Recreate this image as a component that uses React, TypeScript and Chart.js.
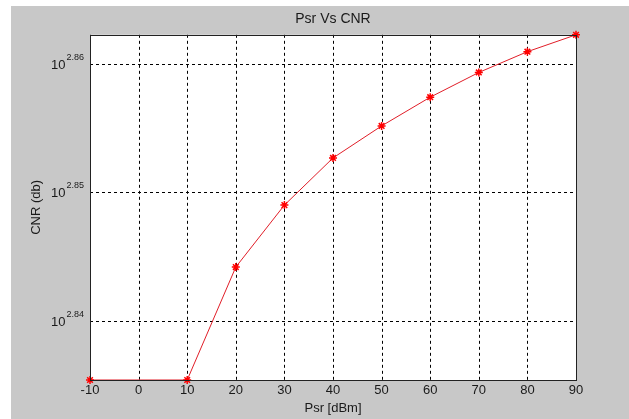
import React, { useEffect, useRef } from 'react';
import { Chart, registerables } from 'chart.js';

Chart.register(...registerables);

// ---- Data ----
const psrDbm: number[] = [-10, 10, 20, 30, 40, 50, 60, 70, 80, 90];
const cnrDb: number[] = [684.5, 684.5, 698.5, 706.3, 712.3, 716.4, 720.1, 723.3, 726.0, 728.2];
const yTickExponents: number[] = [2.84, 2.85, 2.86];
const xMin = -10;
const xMax = 90;
const xStep = 10;
const yMin = 684.5;
const yMax = 728.2;
const titleText = 'Psr Vs CNR';
const xTitle = 'Psr [dBm]';
const yTitle = 'CNR (db)';

const FONT = '"Liberation Sans", Arial, sans-serif';
const TEXT = '#1a1a1a';

const matlabPlugin = {
  id: 'matlabStyle',
  beforeDraw(chart: any) {
    const { ctx, chartArea: a } = chart;
    ctx.save();
    ctx.fillStyle = '#ffffff';
    ctx.fillRect(a.left, a.top, a.right - a.left, a.bottom - a.top);
    ctx.restore();
  },
  beforeDatasetsDraw(chart: any) {
    const { ctx, chartArea: a } = chart;
    const xs = chart.scales.x;
    const ys = chart.scales.y;
    ctx.save();
    ctx.strokeStyle = '#000000';
    ctx.lineWidth = 1;
    ctx.setLineDash([3, 3]);
    for (let v = xMin; v <= xMax; v += xStep) {
      const px = Math.round(xs.getPixelForValue(v)) + 0.5;
      ctx.beginPath();
      ctx.moveTo(px, a.top);
      ctx.lineTo(px, a.bottom);
      ctx.stroke();
    }
    yTickExponents.forEach((e) => {
      const py = Math.round(ys.getPixelForValue(Math.pow(10, e))) + 0.5;
      ctx.beginPath();
      ctx.moveTo(a.left, py);
      ctx.lineTo(a.right, py);
      ctx.stroke();
    });
    ctx.restore();
  },
  afterDatasetsDraw(chart: any) {
    const { ctx, chartArea: a } = chart;
    ctx.save();
    ctx.lineWidth = 1;
    ctx.strokeStyle = '#222222';
    ctx.strokeRect(Math.round(a.left) + 0.5, Math.round(a.top) + 0.5, Math.round(a.right - a.left), Math.round(a.bottom - a.top));
    ctx.restore();
  },
  afterDraw(chart: any) {
    const { ctx, chartArea: a } = chart;
    const ys = chart.scales.y;
    ctx.save();
    ctx.fillStyle = TEXT;
    ctx.textBaseline = 'alphabetic';
    yTickExponents.forEach((e) => {
      const py = ys.getPixelForValue(Math.pow(10, e));
      const expText = e.toFixed(2);
      ctx.font = `9px ${FONT}`;
      const expW = ctx.measureText(expText).width;
      const expX = a.left - 6 - expW;
      ctx.textAlign = 'left';
      ctx.fillText(expText, expX, py - 4);
      ctx.font = `13px ${FONT}`;
      ctx.textAlign = 'right';
      ctx.fillText('10', expX - 1, py + 5);
    });
    ctx.restore();
  },
};

export default function App() {
  const canvasRef = useRef<HTMLCanvasElement | null>(null);

  useEffect(() => {
    if (!canvasRef.current) return;
    const chart = new Chart(canvasRef.current, {
      type: 'line',
      data: {
        datasets: [
          {
            label: 'CNR',
            data: psrDbm.map((x, i) => ({ x, y: cnrDb[i] })),
            borderColor: 'rgb(225, 30, 40)',
            borderWidth: 1,
            pointStyle: 'star',
            pointRadius: 4,
            pointBorderColor: '#ff0000',
            pointBackgroundColor: '#ff0000',
            pointBorderWidth: 1.5,
            fill: false,
            tension: 0,
            clip: false as any,
          },
        ],
      },
      options: {
        responsive: false,
        animation: false,
        events: [],
        layout: { padding: { left: 0, right: 53, top: 0, bottom: 0 } },
        plugins: {
          legend: { display: false },
          tooltip: { enabled: false },
          title: {
            display: true,
            text: titleText,
            fullSize: false,
            color: TEXT,
            font: { family: FONT, size: 14, weight: 'normal' },
            padding: { top: 5, bottom: 7 },
          },
        },
        scales: {
          x: {
            type: 'linear',
            min: xMin,
            max: xMax,
            grid: { display: false, drawTicks: false },
            border: { display: false },
            ticks: {
              stepSize: xStep,
              color: TEXT,
              font: { family: FONT, size: 13 },
              padding: 3,
              maxRotation: 0,
            },
            title: {
              display: true,
              text: xTitle,
              color: TEXT,
              font: { family: FONT, size: 13 },
              padding: { top: 0, bottom: 3 },
            },
            afterFit(scale: any) {
              scale.height = 39;
            },
          },
          y: {
            type: 'logarithmic',
            min: yMin,
            max: yMax,
            grid: { display: false, drawTicks: false },
            border: { display: false },
            ticks: { display: false },
            title: {
              display: true,
              text: yTitle,
              color: TEXT,
              font: { family: FONT, size: 13 },
              padding: { top: 18, bottom: 0 },
            },
            afterFit(scale: any) {
              scale.width = 79;
            },
          },
        },
      },
      plugins: [matlabPlugin],
    } as any);
    return () => chart.destroy();
  }, []);

  return (
    <div style={{ position: 'fixed', left: 0, top: 0, width: 629, height: 419, background: '#ffffff' }}>
      <div style={{ position: 'absolute', left: 11, top: 6, width: 618, height: 413, background: 'rgb(200,200,200)' }}>
        <canvas ref={canvasRef} width={618} height={413} style={{ display: 'block' }} />
      </div>
    </div>
  );
}
